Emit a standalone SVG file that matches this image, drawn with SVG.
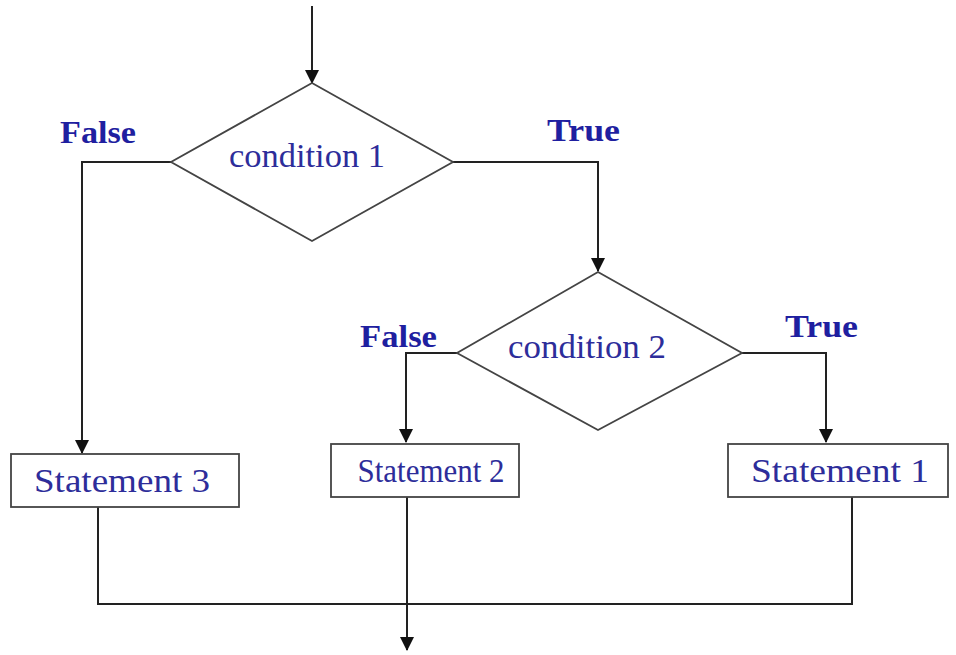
<svg xmlns="http://www.w3.org/2000/svg" width="956" height="655" viewBox="0 0 956 655">
<defs>
<style>
.ln{fill:none;stroke:#222;stroke-width:2}
.shape{fill:#fff;stroke:#444;stroke-width:1.8}
.t{font-size:34px;fill:#2d2d9a;text-anchor:middle}
.lbl{font-size:32px;font-weight:bold;fill:#1f1fa0}
</style>
<marker id="arr" markerWidth="14" markerHeight="14" refX="13" refY="7" orient="auto" markerUnits="userSpaceOnUse">
<path d="M0,0 L14,7 L0,14 Z" fill="#111"/>
</marker>
</defs>
<rect width="956" height="655" fill="#fff"/>
<g id="connectors">
<line class="ln" x1="312" y1="6" x2="312" y2="83" marker-end="url(#arr)"/>
<polyline class="ln" points="171,162 82,162 82,453" marker-end="url(#arr)"/>
<polyline class="ln" points="453,162 598,162 598,271" marker-end="url(#arr)"/>
<polyline class="ln" points="457,353 406,353 406,442" marker-end="url(#arr)"/>
<polyline class="ln" points="742,353 826,353 826,442" marker-end="url(#arr)"/>
<polyline class="ln" points="98,507 98,604 852,604 852,497"/>
<line class="ln" x1="407" y1="497" x2="407" y2="650" marker-end="url(#arr)"/>
</g>
<g font-family="'Liberation Serif', 'DejaVu Serif', serif">
<g id="cond1">
<polygon class="shape" points="312,83 453,162 312,241 171,162"/>
<text class="t" x="307" y="167" textLength="156" lengthAdjust="spacingAndGlyphs">condition 1</text>
</g>
<g id="cond2">
<polygon class="shape" points="598,272 742,353 598,430 457,353"/>
<text class="t" x="587" y="358" textLength="158" lengthAdjust="spacingAndGlyphs">condition 2</text>
</g>
<g id="stmt3">
<rect class="shape" x="11" y="454" width="228" height="53"/>
<text class="t" x="122" y="492" textLength="176" lengthAdjust="spacingAndGlyphs">Statement 3</text>
</g>
<g id="stmt2">
<rect class="shape" x="331" y="444" width="188" height="53"/>
<text class="t" x="431" y="482" textLength="147" lengthAdjust="spacingAndGlyphs">Statement 2</text>
</g>
<g id="stmt1">
<rect class="shape" x="728" y="444" width="220" height="53"/>
<text class="t" x="840" y="482" textLength="178" lengthAdjust="spacingAndGlyphs">Statement 1</text>
</g>
<g id="labels">
<text class="lbl" x="60" y="143" textLength="76" lengthAdjust="spacingAndGlyphs">False</text>
<text class="lbl" x="547" y="141" textLength="73" lengthAdjust="spacingAndGlyphs">True</text>
<text class="lbl" x="360" y="347" textLength="77" lengthAdjust="spacingAndGlyphs">False</text>
<text class="lbl" x="785" y="337" textLength="73" lengthAdjust="spacingAndGlyphs">True</text>
</g>
</g>
</svg>
